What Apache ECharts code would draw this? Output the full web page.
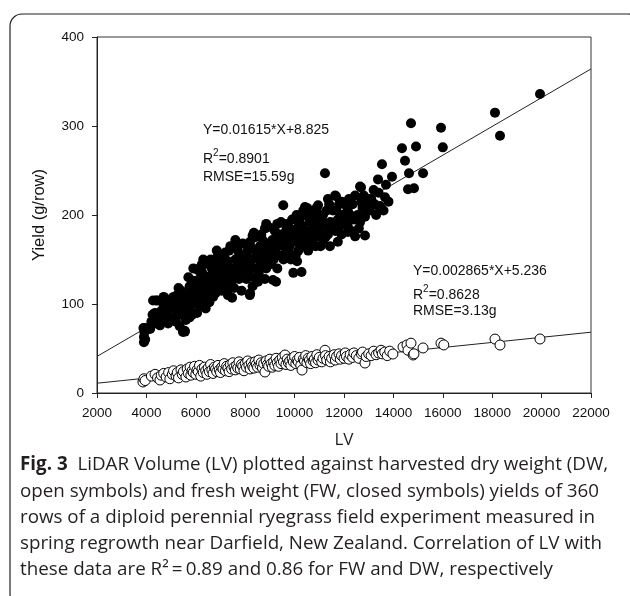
<!DOCTYPE html>
<html><head><meta charset="utf-8">
<script src="https://cdn.jsdelivr.net/npm/echarts@6/dist/echarts.min.js"></script>
<style>html,body{margin:0;padding:0;background:#fff}#c{width:630px;height:596px}</style>
</head><body><div id="c"></div>
<script>
// ---- data ----
const xTicks = [2000, 4000, 6000, 8000, 10000, 12000, 14000, 16000, 18000, 20000, 22000];
const yTicks = [0, 100, 200, 300, 400];
const xName = 'LV';
const yName = 'Yield (g/row)';

// fresh weight (closed symbols)
const fwPoints = [
[3900,57],[3900,63],[3920,68],[3880,73],[3950,60],[3940,73],
[4150,72],[4200,80],[4300,84],[4350,90],[4450,104],[4400,78],[4250,88],[4390,104],[4270,104],
[4550,76],[4600,92],[4700,98],[4750,82],[4800,88],[4850,100],[4900,95],[4650,86],[4950,105],[4700,108],[4600,80],[4880,78],
[5050,84],[5100,96],[5150,102],[5200,90],[5250,110],[5300,98],[5350,88],[5400,115],[5450,104],[5050,100],[5200,80],[5300,118],[5450,92],[5100,108],[5480,68.5],[5350,75],
[5550,70],[5600,100],[5650,112],[5700,95],[5750,120],[5800,105],[5850,88],[5900,126],[5950,110],[5600,82],[5700,130],[5800,98],[5900,140],[5550,108],[5650,92],[5950,118],[6090,138],[5560,69],[5750,85],
[6050,100],[6100,115],[6150,128],[6200,105],[6250,136],[6300,120],[6350,110],[6400,145],[6450,125],[6050,90],[6150,140],[6250,98],[6350,130],[6450,112],[6100,122],[6300,150],[6400,95],[6240,144],[6200,118],
[6550,118],[6600,132],[6650,140],[6700,108],[6750,148],[6800,125],[6850,135],[6900,155],[6950,120],[6550,102],[6650,125],[6750,115],[6850,160],[6950,140],[6600,150],[6800,112],[6700,130],
[7050,130],[7100,145],[7150,122],[7200,158],[7250,135],[7300,148],[7350,120],[7400,165],[7450,140],[7050,115],[7150,152],[7250,128],[7350,160],[7450,125],[7100,138],[7300,110],[7470,107],[7050,153],
[7550,132],[7600,150],[7650,142],[7700,160],[7750,128],[7800,155],[7850,145],[7900,168],[7950,138],[7550,118],[7650,165],[7750,148],[7850,115],[7950,152],[7600,172],[7800,135],[7700,138],
[8050,145],[8100,160],[8150,138],[8200,170],[8250,150],[8300,162],[8350,130],[8400,175],[8450,155],[8050,128],[8150,168],[8250,142],[8350,180],[8450,140],[8100,152],[8300,120],[8200,112],[8300,177],[8190,110],
[8550,150],[8600,165],[8650,145],[8700,172],[8750,158],[8800,185],[8850,140],[8900,168],[8950,155],[8550,135],[8650,178],[8750,148],[8850,190],[8950,162],[8600,155],[8800,128],[8520,125],[8880,186],[8920,187],
[9050,160],[9100,172],[9150,150],[9200,182],[9250,165],[9300,190],[9350,155],[9400,175],[9450,168],[9050,145],[9150,185],[9250,125],[9350,178],[9450,192],[9100,158],[9300,140],[9125,127],[9200,162],
[9550,165],[9600,180],[9650,158],[9700,190],[9750,172],[9800,185],[9850,150],[9900,195],[9950,175],[9550,150],[9650,188],[9750,160],[9850,178],[9950,135],[9600,170],[9540,211],[9800,165],
[10050,170],[10100,185],[10150,160],[10200,195],[10250,178],[10300,188],[10350,165],[10400,200],[10450,182],[10050,155],[10150,192],[10250,168],[10350,205],[10450,172],[10100,148],[10280,136],[10080,200],[10420,209],
[10550,175],[10600,192],[10650,168],[10700,200],[10750,185],[10800,195],[10850,175],[10900,208],[10950,188],[10550,160],[10650,182],[10750,205],[10850,165],[10950,198],[10600,178],[10500,208],[10950,211],
[11050,180],[11100,195],[11150,172],[11230,247],[11250,188],[11300,205],[11350,178],[11400,212],[11450,192],[11050,165],[11150,200],[11250,175],[11350,218],[11450,185],[11430,165],
[11550,190],[11676,221],[11650,182],[11700,205],[11750,195],[11800,212],[11850,188],[11900,178],[11950,200],[11550,205],[11750,170],[11900,215],[11640,222],
[12050,195],[12100,210],[12150,188],[12200,218],[12250,200],[12300,182],[12350,212],[12400,195],[12450,222],[12150,205],[12160,181],[12450,176],
[12550,200],[12688,231],[12650,192],[12700,215],[12750,208],[12800,222],[12850,198],[12900,212],[12950,218],[12600,185],[12850,177],[12650,232],
[13050,205],[13100,218],[13200,228],[13250,212],[13377,240],[13457,210],[13300,200],[13400,225],[13460,206],
[13538,257],[13660,220],[13700,234],[13943,243],[13800,215],[13600,205],
[14348,275],[14470,261],[14591,229],[14834,230],[14632,247],[14712,303],[14915,277],[15200,247],[15927,298],[16000,276],
[18113,315],[18316,289],[19935,336]
];

// dry weight (open symbols)
const dwPoints = [
[3860,12.4],[3900,16],[3950,14],[4200,19],[4350,21],[4450,17],[4550,14.6],[4600,20],[4700,22],[4800,18],[4900,23],[4950,16],
[5050,21],[5100,25],[5200,19],[5250,23],[5300,17],[5400,26],[5450,21],[5500,24],[5600,18],[5650,27],[5700,22],[5770,29],[5800,20],[5850,25],[5900,23],[5950,30],
[6000,21],[6050,26],[6100,24],[6150,31],[6200,19],[6250,27],[6300,23],[6350,29],[6400,25],[6450,21],[6500,28],[6550,24],[6600,32],[6650,26],[6700,22],[6750,29],[6800,27],[6850,24],[6900,31],[6950,26],
[7000,23],[7050,29],[7100,27],[7150,33],[7200,25],[7250,30],[7300,28],[7350,24],[7400,32],[7450,27],[7500,34],[7550,29],[7600,26],[7650,31],[7700,28],[7750,35],[7800,27],[7850,32],[7900,30],[7950,25],
[8000,33],[8050,29],[8100,36],[8150,31],[8200,27],[8250,34],[8300,30],[8350,28],[8400,35],[8450,32],[8500,29],[8550,37],[8600,31],[8650,34],[8700,28],[8750,33],[8800,23.6],[8850,36],[8900,32],[8950,30],
[9000,38],[9050,33],[9100,29],[9150,35],[9200,31],[9250,39],[9300,34],[9350,30],[9400,37],[9450,33],[9500,40],[9550,35],[9610,42.7],[9650,32],[9700,38],[9750,34],[9800,36],[9850,31],[9900,39],[9950,35],
[10000,41],[10050,33],[10100,37],[10150,35],[10200,40],[10250,31],[10300,25.8],[10350,38],[10400,36],[10450,42],[10500,34],[10550,39],[10600,37],[10650,33],[10700,41],[10750,36],[10800,38],[10850,34],[10900,43],[10950,37],
[11000,40],[11100,35],[11150,39],[11230,48],[11250,42],[11300,37],[11400,41],[11450,35],[11500,39],[11600,43],[11650,37],[11700,41],[11800,44],[11850,38],[11900,42],
[12000,39],[12050,45],[12100,41],[12200,38],[12250,43],[12350,40],[12400,45],[12500,42],[12600,39],[12700,44],[12750,46],[12850,33.7],[12900,41],
[13000,44],[13100,42],[13200,47],[13300,43],[13400,45],[13500,48],[13550,44],[13650,46],[13750,42],[13850,47],[13980,43.8],
[14390,51.7],[14550,54],[14590,48],[14712,56],[14800,42.7],[14834,44],[15200,50.6],[15927,56],[16040,54],
[18113,60.6],[18316,53.9],[19935,60.7]
];

// regression lines (end points)
const fwLine = [[2000,41.1],[22000,364.1]];
const dwLine = [[2000,11.0],[22000,68.3]];

const fwEq = 'Y=0.01615*X+8.825';
const fwR2 = '0.8901';
const fwRmse = 'RMSE=15.59g';
const dwEq = 'Y=0.002865*X+5.236';
const dwR2 = '0.8628';
const dwRmse = 'RMSE=3.13g';

const captionLines = [
  '{b|Fig. 3}  LiDAR Volume (LV) plotted against harvested dry weight (DW,',
  'open symbols) and fresh weight (FW, closed symbols) yields of 360',
  'rows of a diploid perennial ryegrass field experiment measured in',
  'spring regrowth near Darfield, New Zealand. Correlation of LV with',
  'these data are R\u00B2\u2009=\u20090.89 and 0.86 for FW and DW, respectively'
];

// ---- chart ----
const chart = echarts.init(document.getElementById('c'), null, {renderer: 'canvas'});
const AF = 'Liberation Sans, Arial, sans-serif';
const CF = 'Open Sans, Noto Sans, sans-serif';

function annot(x, y, eq, r2, rmse, gap1, gap2) {
  const st = {fontFamily: AF, fontSize: 14, fill: '#111'};
  return [
    {type: 'text', left: x, top: y, style: Object.assign({text: eq}, st), z: 10},
    {type: 'text', left: x, top: y + gap1 - 4, style: Object.assign({
      text: '{n|R}{s|2}{n|=' + r2 + '}',
      rich: {n: {fontFamily: AF, fontSize: 14, lineHeight: 18, verticalAlign: 'bottom'},
             s: {fontFamily: AF, fontSize: 10, lineHeight: 10, verticalAlign: 'top'}}
    }, st), z: 10},
    {type: 'text', left: x, top: y + gap1 + gap2, style: Object.assign({text: rmse}, st), z: 10}
  ];
}

const graphics = [
  {type: 'rect', shape: {x: 10, y: 14, width: 630, height: 592, r: 12}, style: {fill: 'none', stroke: '#222', lineWidth: 1.2}, z: 0, silent: true}
].concat(annot(203, 123, fwEq, fwR2, fwRmse, 29, 18))
 .concat(annot(413, 264, dwEq, dwR2, dwRmse, 24, 16));

captionLines.forEach((t, i) => {
  graphics.push({
    type: 'text', left: 20, top: 454 + i * 26.2, z: 10,
    style: {
      text: t, fontFamily: CF, fontSize: 18.8, lineHeight: 22, fill: '#231f20',
      rich: {
        b: {fontFamily: CF, fontSize: 18.8, lineHeight: 22, fontWeight: 'bold', fill: '#231f20'}
      }
    }
  });
});

chart.setOption({
  animation: false,
  backgroundColor: '#fff',
  grid: {left: 97, right: 39, top: 37, bottom: 203, show: true, borderColor: '#333', borderWidth: 1},
  xAxis: {
    type: 'value', min: xTicks[0], max: xTicks[xTicks.length - 1], interval: xTicks[1] - xTicks[0],
    name: xName, nameLocation: 'middle', nameGap: 39,
    nameTextStyle: {fontFamily: CF, fontSize: 17, color: '#231f20'},
    axisLine: {show: true, lineStyle: {color: '#222', width: 1}},
    axisTick: {show: true, length: 5, lineStyle: {color: '#222'}},
    axisLabel: {fontFamily: AF, fontSize: 13.5, color: '#111', margin: 13, formatter: v => String(v)},
    splitLine: {show: false}
  },
  yAxis: {
    type: 'value', min: yTicks[0], max: yTicks[yTicks.length - 1], interval: yTicks[1] - yTicks[0],
    name: yName, nameLocation: 'middle', nameGap: 49, nameRotate: 90,
    nameTextStyle: {fontFamily: AF, fontSize: 16.5, color: '#111'},
    axisLine: {show: true, lineStyle: {color: '#222', width: 1}},
    axisTick: {show: true, length: 5, lineStyle: {color: '#222'}},
    axisLabel: {fontFamily: AF, fontSize: 13.5, color: '#111', margin: 13, formatter: v => String(v)},
    splitLine: {show: false}
  },
  series: [
    {type: 'line', data: fwLine, symbol: 'none', lineStyle: {color: '#222', width: 1}, z: 1, silent: true},
    {type: 'line', data: dwLine, symbol: 'none', lineStyle: {color: '#222', width: 1}, z: 1, silent: true},
    {type: 'scatter', data: fwPoints, symbol: 'circle', symbolSize: 10, itemStyle: {color: '#000', opacity: 1}, z: 3},
    {type: 'scatter', data: dwPoints, symbol: 'circle', symbolSize: 10, itemStyle: {color: '#fff', borderColor: '#000', borderWidth: 1, opacity: 1}, z: 3}
  ],
  graphic: graphics
});
</script></body></html>
